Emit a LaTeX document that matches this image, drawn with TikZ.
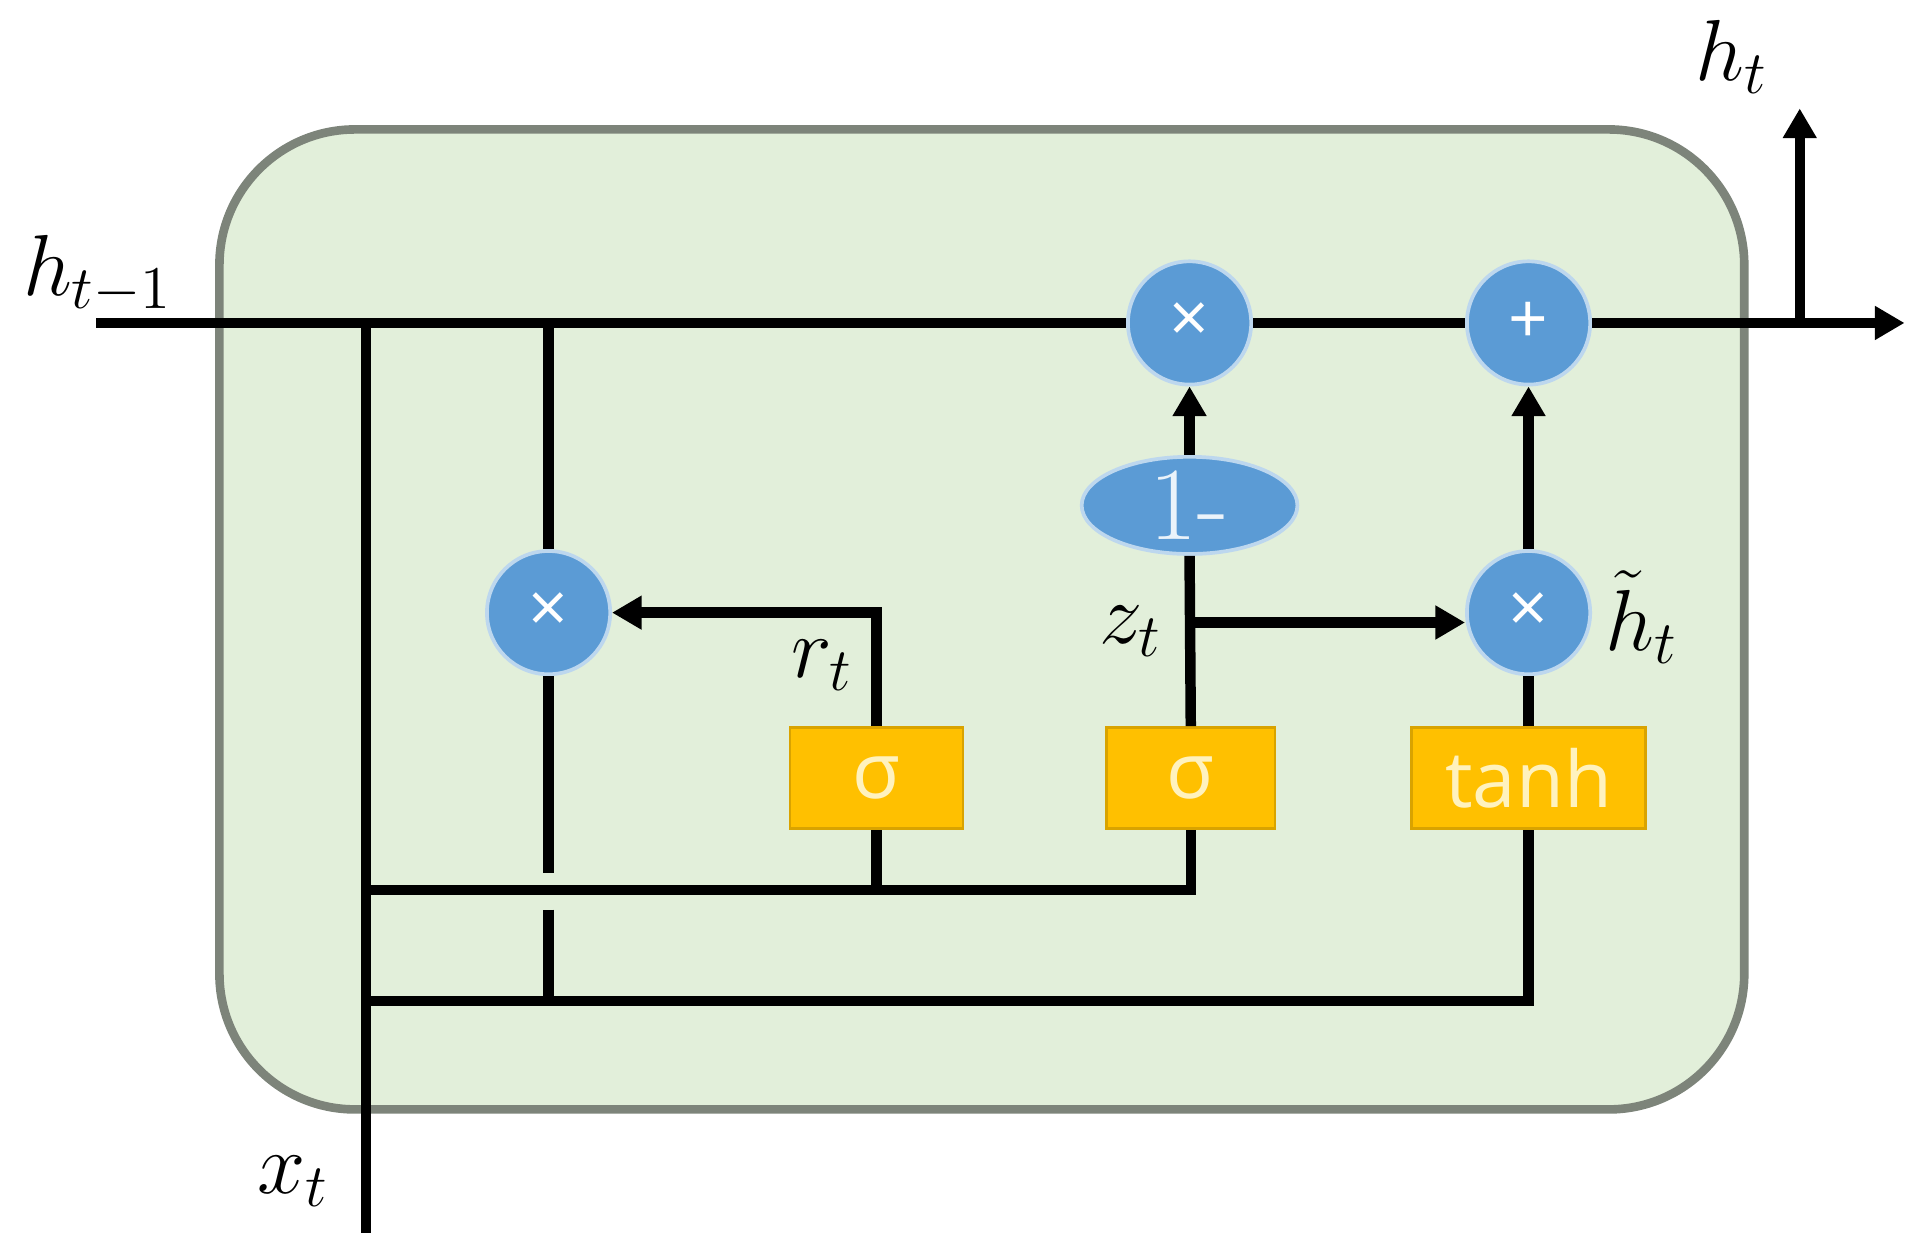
\documentclass[tikz,border=0pt]{standalone}
\usepackage{fontspec}
\newfontfamily\opensans{Open Sans}
\usepackage{fix-cm}
\usetikzlibrary{arrows.meta,shapes.geometric}
\definecolor{cellfill}{RGB}{226,239,218}
\definecolor{celldraw}{RGB}{125,132,122}
\definecolor{opblue}{RGB}{91,155,213}
\definecolor{gateyel}{RGB}{255,192,0}
\definecolor{gatetxt}{RGB}{255,242,190}
\begin{document}
\begin{tikzpicture}[x=0.1mm,y=-0.1mm,
 wire/.style={line width=0.85mm,black},
 arr/.style={wire,-{Triangle[length=2.4mm,width=2.6mm]}},
 opnode/.style={circle,fill=opblue,draw=opblue!40!white,line width=0.3mm,minimum size=10mm,inner sep=0pt,text=white,font=\opensans\fontsize{16}{16}\selectfont},
 gatebox/.style={rectangle,fill=gateyel,draw=gateyel!85!black,line width=0.2mm,minimum height=8.2mm,inner sep=0pt,text=gatetxt,font=\opensans\fontsize{18}{18}\selectfont},
 lbl/.style={font=\fontsize{20}{24}\selectfont,inner sep=0pt,anchor=base west}]
\useasboundingbox (0,0) rectangle (1560,1012.4);
\draw[fill=cellfill,draw=celldraw,line width=0.7mm,rounded corners=11mm] (178,105) rectangle (1415,900);

\node[opnode] (mx) at (965,262) {×};
\node[opnode] (plus) at (1240,262) {+};
\node[opnode] (hx) at (1240,497) {×};
\node[opnode] (rx) at (445,497) {×};
\node[ellipse,fill=opblue,draw=opblue!40!white,line width=0.3mm,minimum width=17.5mm,minimum height=6.8mm,inner sep=0pt,text=white!88!opblue,font=\fontsize{24}{24}\selectfont] (one) at (965,410) {1-};
\node[gatebox,minimum width=14mm] (s1) at (711,631) {σ};
\node[gatebox,minimum width=13.7mm] (s2) at (966,631) {σ};
\node[gatebox,minimum width=19mm] (th) at (1240,631) {tanh};

\coordinate (hin) at (78,262);
\coordinate (hout) at (1545,262);
\coordinate (xin) at (297,1000);
\coordinate (j1) at (297,262);
\coordinate (j2) at (445,262);
\coordinate (gap1) at (445,708);
\coordinate (gap2) at (445,738);
\coordinate (b1) at (297,722);
\coordinate (b2) at (297,812);
\coordinate (zb) at (966,505);
\coordinate (hup) at (1460,262);
\coordinate (htop) at (1460,88);

\draw[wire] (hin) -- (mx.west);
\draw[wire] (mx.east) -- (plus.west);
\draw[arr] (plus.east) -- (hout);
\draw[arr] (hup) -- (htop);
\draw[wire] (xin) -- (j1);
\draw[wire] (j2) -- (rx.north);
\draw[wire] (rx.south) -- (gap1);
\draw[wire] (gap2) -- (b2 -| gap2);
\draw[wire] (b1) -| (s2.south);
\draw[wire] (b1 -| s1) -- (s1.south);
\draw[wire] (b2) -| (th.south);
\draw[arr] (s1.north) |- (rx.east);
\draw[wire] (s2.north) -- (one.south);
\draw[arr] (zb) -- (zb -| hx.west);
\draw[arr] (one.north) -- (mx.south);
\draw[wire] (th.north) -- (hx.south);
\draw[arr] (hx.north) -- (plus.south);

\node[lbl] (lhprev) at (18,240) {$h_{t-1}$};
\node[lbl] (lht) at (1375,65) {$h_t$};
\node[lbl] (lxt) at (208,968) {$x_t$};
\node[lbl] (lrt) at (641,550) {$r_t$};
\node[lbl] (lzt) at (891,522) {$z_t$};
\node[lbl] (lht2) at (1302,528) {$\tilde{h}_t$};
\end{tikzpicture}
\end{document}
